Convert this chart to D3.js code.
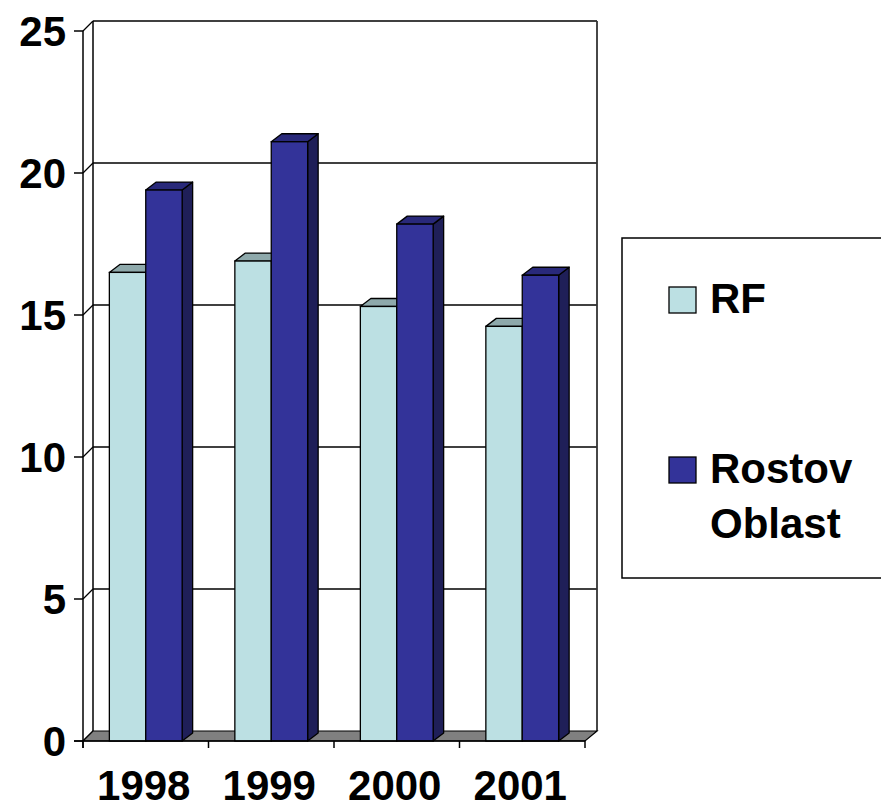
<!DOCTYPE html>
<html>
<head>
<meta charset="utf-8">
<script src="https://cdn.jsdelivr.net/npm/d3@7"></script>
<style>
  body { margin: 0; background: #fff; }
  text { font-family: Arial, "Liberation Sans", sans-serif; font-weight: bold; fill: #000; }
</style>
</head>
<body>
<div id="chart"></div>
<script>
"use strict";

const years = ['1998', '1999', '2000', '2001'];
const seriesNames = ['RF', 'Rostov Oblast'];
const rfValues = [16.5, 16.9, 15.3, 14.6];
const rostovValues = [19.4, 21.1, 18.2, 16.4];
const yTicks = [0, 5, 10, 15, 20, 25];

const W = 881, H = 809;
const depth = { x: 10, y: -10 };   // wall/floor depth
const barDepth = { x: 10.5, y: -8 };

const faces = {
  'RF': { front: '#bce0e3', top: '#8ea9ab', side: '#7f9a9c' },
  'Rostov Oblast': { front: '#333399', top: '#29297a', side: '#1f1f58' }
};

let svg = d3.select('#chart')
  .append('svg')
  .attr('width', W)
  .attr('height', H);

let x = d3.scaleBand()
  .domain(years)
  .range([83, 585])
  .paddingInner(0.42)
  .paddingOuter(0.21);

let xSeries = d3.scaleBand()
  .domain(seriesNames)
  .range([0, x.bandwidth()]);

let y = d3.scaleLinear()
  .domain([0, 25])
  .range([741, 31]);

let x0 = 83, x1 = 585, y0 = y(0);

function pts(list) {
  return list.map(p => p.join(',')).join(' ');
}

// back wall gridlines
svg.append('g')
  .selectAll('line')
  .data(yTicks.filter(d => d > 0))
  .join('line')
  .attr('x1', x0 + depth.x)
  .attr('x2', x1 + depth.x + 2)
  .attr('y1', d => y(d) + depth.y)
  .attr('y2', d => y(d) + depth.y)
  .attr('stroke', '#000')
  .attr('stroke-width', 1.4);

// back wall verticals
svg.append('line')
  .attr('x1', x0 + depth.x).attr('x2', x0 + depth.x)
  .attr('y1', y(25) + depth.y).attr('y2', y0 + depth.y)
  .attr('stroke', '#000').attr('stroke-width', 1.5);
svg.append('line')
  .attr('x1', x1 + depth.x + 2).attr('x2', x1 + depth.x + 2)
  .attr('y1', y(25) + depth.y).attr('y2', y0 + depth.y)
  .attr('stroke', '#333').attr('stroke-width', 1.8);

// left wall diagonals
svg.append('g')
  .selectAll('line')
  .data(yTicks)
  .join('line')
  .attr('x1', x0)
  .attr('x2', x0 + depth.x)
  .attr('y1', d => y(d))
  .attr('y2', d => y(d) + depth.y)
  .attr('stroke', '#000')
  .attr('stroke-width', 1.2);

// floor
svg.append('polygon')
  .attr('points', pts([[x0, y0], [x1, y0], [x1 + depth.x + 2, y0 + depth.y], [x0 + depth.x, y0 + depth.y]]))
  .attr('fill', '#808080')
  .attr('stroke', '#000')
  .attr('stroke-width', 1.2);

// bars
let barData = [];
years.forEach((yr, i) => {
  barData.push({ year: yr, series: 'RF', value: rfValues[i] });
  barData.push({ year: yr, series: 'Rostov Oblast', value: rostovValues[i] });
});

let bars = svg.append('g')
  .selectAll('g')
  .data(barData)
  .join('g');

bars.each(function(d) {
  let g = d3.select(this);
  let bx = x(d.year) + xSeries(d.series);
  let bw = xSeries.bandwidth();
  let top = y(d.value);
  let c = faces[d.series];
  let dx = barDepth.x, dy = barDepth.y;

  g.append('polygon')
    .attr('points', pts([[bx + bw, top], [bx + bw + dx, top + dy], [bx + bw + dx, y0 + dy], [bx + bw, y0]]))
    .attr('fill', c.side).attr('stroke', '#000').attr('stroke-width', 1.3)
    .attr('stroke-linejoin', 'round');
  g.append('polygon')
    .attr('points', pts([[bx, top], [bx + dx, top + dy], [bx + bw + dx, top + dy], [bx + bw, top]]))
    .attr('fill', c.top).attr('stroke', '#000').attr('stroke-width', 1.3)
    .attr('stroke-linejoin', 'round');
  g.append('rect')
    .attr('x', bx).attr('y', top)
    .attr('width', bw).attr('height', y0 - top)
    .attr('fill', c.front).attr('stroke', '#000').attr('stroke-width', 1.3);
});

// front axes
svg.append('line')
  .attr('x1', x0).attr('x2', x0)
  .attr('y1', y(25)).attr('y2', y0 + 7)
  .attr('stroke', '#000').attr('stroke-width', 1.5);
svg.append('line')
  .attr('x1', x0 - 9).attr('x2', x1)
  .attr('y1', y0).attr('y2', y0)
  .attr('stroke', '#000').attr('stroke-width', 1.5);

// y ticks + labels
svg.append('g')
  .selectAll('line')
  .data(yTicks)
  .join('line')
  .attr('x1', x0 - 9).attr('x2', x0)
  .attr('y1', d => y(d)).attr('y2', d => y(d))
  .attr('stroke', '#000').attr('stroke-width', 1.5);

svg.append('g')
  .selectAll('text')
  .data(yTicks)
  .join('text')
  .attr('x', 66)
  .attr('y', d => y(d))
  .attr('dy', '0.36em')
  .attr('text-anchor', 'end')
  .attr('font-size', 42)
  .text(d => d);

// x ticks + labels
let xEdges = years.map(d => x(d) - x.step() * x.paddingOuter()).concat([x1]);
svg.append('g')
  .selectAll('line')
  .data(xEdges)
  .join('line')
  .attr('x1', d => d).attr('x2', d => d)
  .attr('y1', y0).attr('y2', y0 + 7)
  .attr('stroke', '#000').attr('stroke-width', 1.5);

svg.append('g')
  .selectAll('text')
  .data(years)
  .join('text')
  .attr('x', d => x(d) + x.bandwidth() / 2 - 2)
  .attr('y', 800)
  .attr('text-anchor', 'middle')
  .attr('font-size', 42)
  .text(d => d);

// legend
let legend = svg.append('g');
legend.append('rect')
  .attr('x', 622).attr('y', 238)
  .attr('width', 300).attr('height', 340)
  .attr('fill', '#fff').attr('stroke', '#000').attr('stroke-width', 1.5);

let legendRows = [
  { name: seriesNames[0], lines: ['RF'], y: 313 },
  { name: seriesNames[1], lines: ['Rostov', 'Oblast'], y: 483 }
];

legendRows.forEach(r => {
  legend.append('rect')
    .attr('x', 669).attr('y', r.y - 26)
    .attr('width', 27).attr('height', 26)
    .attr('fill', faces[r.name].front)
    .attr('stroke', '#000').attr('stroke-width', 1.3);
  let t = legend.append('text')
    .attr('x', 710).attr('y', r.y)
    .attr('font-size', 42);
  r.lines.forEach((ln, i) => {
    t.append('tspan')
      .attr('x', 710)
      .attr('dy', i === 0 ? 0 : 55)
      .text(ln);
  });
});
</script>
</body>
</html>
